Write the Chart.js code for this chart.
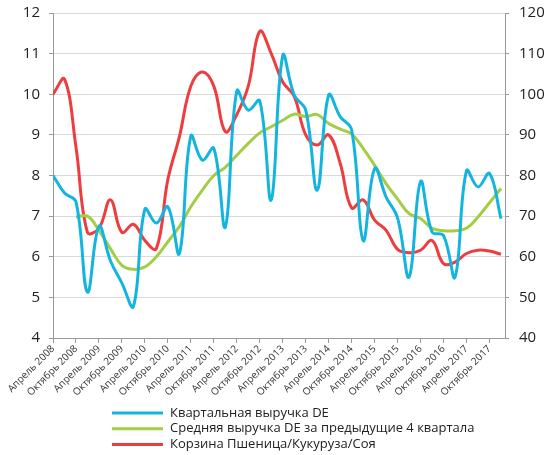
<!DOCTYPE html>
<html>
<head>
<meta charset="utf-8">
<script src="https://cdn.jsdelivr.net/npm/chart.js@4"></script>
<style>
  body { margin: 0; background: #fff; }
</style>
</head>
<body>
<canvas id="chart" width="560" height="455"></canvas>
<script>
// tick labels, one for every second quarter
const tickLabels = ['Апрель 2008', 'Октябрь 2008', 'Апрель 2009', 'Октябрь 2009', 'Апрель 2010',
  'Октябрь 2010', 'Апрель 2011', 'Октябрь 2011', 'Апрель 2012', 'Октябрь 2012',
  'Апрель 2013', 'Октябрь 2013', 'Апрель 2014', 'Октябрь 2014', 'Апрель 2015',
  'Октябрь 2015', 'Апрель 2016', 'Октябрь 2016', 'Апрель 2017', 'Октябрь 2017'];

// quarterly values, left axis
const revenueDE = [8.0, 7.57, 7.35, 5.13, 6.75, 5.9, 5.35, 4.78, 7.17, 6.83,
  7.23, 6.08, 8.97, 8.38, 8.67, 6.73, 10.08, 9.61, 9.84, 7.4,
  10.95, 9.98, 9.61, 7.64, 9.98, 9.45, 9.12, 6.4, 8.17, 7.47,
  6.95, 5.5, 7.85, 6.61, 6.52, 5.5, 8.12, 7.72, 8.05, 6.94];

const avgRevenueDE = [null, null, 6.98, 7.0, 6.65, 6.2, 5.79, 5.69, 5.75, 6.0,
  6.37, 6.74, 7.23, 7.64, 8.0, 8.2, 8.5, 8.79, 9.05, 9.2,
  9.36, 9.51, 9.45, 9.5, 9.28, 9.14, 9.02, 8.67, 8.25, 7.8,
  7.42, 7.06, 6.94, 6.7, 6.64, 6.64, 6.7, 6.98, 7.33, 7.68];

// right axis
const cropBasket = [100, 103.7, 87, 66, 67, 74, 66, 68, 64, 62,
  79, 89.5, 102, 105.5, 102, 90.8, 95, 102, 115.5, 110,
  103, 99.5, 90, 87.5, 90, 83, 72, 74, 69, 66.5,
  61.8, 61, 61.6, 64, 58.3, 58.7, 60.8, 61.6, 61.4, 60.6];

const FONT = '"Open Sans", sans-serif';

function points(arr) {
  return arr.map((v, i) => ({ x: i, y: v }));
}

const bottomLegend = {
  id: 'bottomLegend',
  afterDraw(chart) {
    const c = chart.ctx;
    c.save();
    chart.data.datasets.forEach((ds, i) => {
      const y = 413 + i * 15.7;
      c.strokeStyle = ds.borderColor;
      c.lineWidth = 3;
      c.beginPath();
      c.moveTo(112, y);
      c.lineTo(163, y);
      c.stroke();
      c.fillStyle = '#222';
      c.font = '13px ' + FONT;
      c.textBaseline = 'middle';
      c.fillText(ds.label, 170, y);
    });
    c.restore();
  }
};

new Chart(document.getElementById('chart'), {
  type: 'line',
  data: {
    datasets: [{
      label: 'Квартальная выручка DE',
      data: points(revenueDE),
      borderColor: '#13B5DF',
      borderWidth: 3,
      pointRadius: 0,
      tension: 0.4,
      yAxisID: 'y'
    }, {
      label: 'Средняя выручка DE за предыдущие 4 квартала',
      data: points(avgRevenueDE),
      borderColor: '#A2CD45',
      borderWidth: 3,
      pointRadius: 0,
      tension: 0.4,
      yAxisID: 'y'
    }, {
      label: 'Корзина Пшеница/Кукуруза/Соя',
      data: points(cropBasket),
      borderColor: '#EE3D3F',
      borderWidth: 3,
      pointRadius: 0,
      tension: 0.4,
      yAxisID: 'y2'
    }]
  },
  options: {
    responsive: false,
    animation: false,
    layout: { padding: 0 },
    plugins: {
      legend: { display: false },
      tooltip: { enabled: false }
    },
    scales: {
      x: {
        type: 'linear',
        min: 0,
        max: 39.35,
        afterBuildTicks: s => { s.ticks = tickLabels.map((t, i) => ({ value: i * 2 })); },
        afterFit: s => { s.height = 117; },
        grid: { drawOnChartArea: false, tickLength: 5, color: '#999' },
        border: { color: '#999' },
        ticks: {
          autoSkip: false,
          minRotation: 45,
          maxRotation: 45,
          padding: 0,
          color: '#333',
          font: { family: FONT, size: 10 },
          callback: v => tickLabels[v / 2]
        }
      },
      y: {
        position: 'left',
        min: 4,
        max: 12,
        afterFit: s => { s.width = 53; s.paddingTop = 13; s.paddingBottom = 9; },
        grid: { color: '#dadada', tickColor: '#999', tickLength: 4, lineWidth: 1 },
        border: { color: '#999' },
        ticks: { stepSize: 1, padding: 9, color: '#222', font: { family: FONT, size: 15 } }
      },
      y2: {
        position: 'right',
        min: 40,
        max: 120,
        afterFit: s => { s.width = 55; s.paddingTop = 13; s.paddingBottom = 9; },
        grid: { drawOnChartArea: false, tickColor: '#999', tickLength: 4 },
        border: { color: '#999' },
        ticks: { stepSize: 10, padding: 10, color: '#222', font: { family: FONT, size: 15 } }
      }
    }
  },
  plugins: [bottomLegend]
});
</script>
</body>
</html>
